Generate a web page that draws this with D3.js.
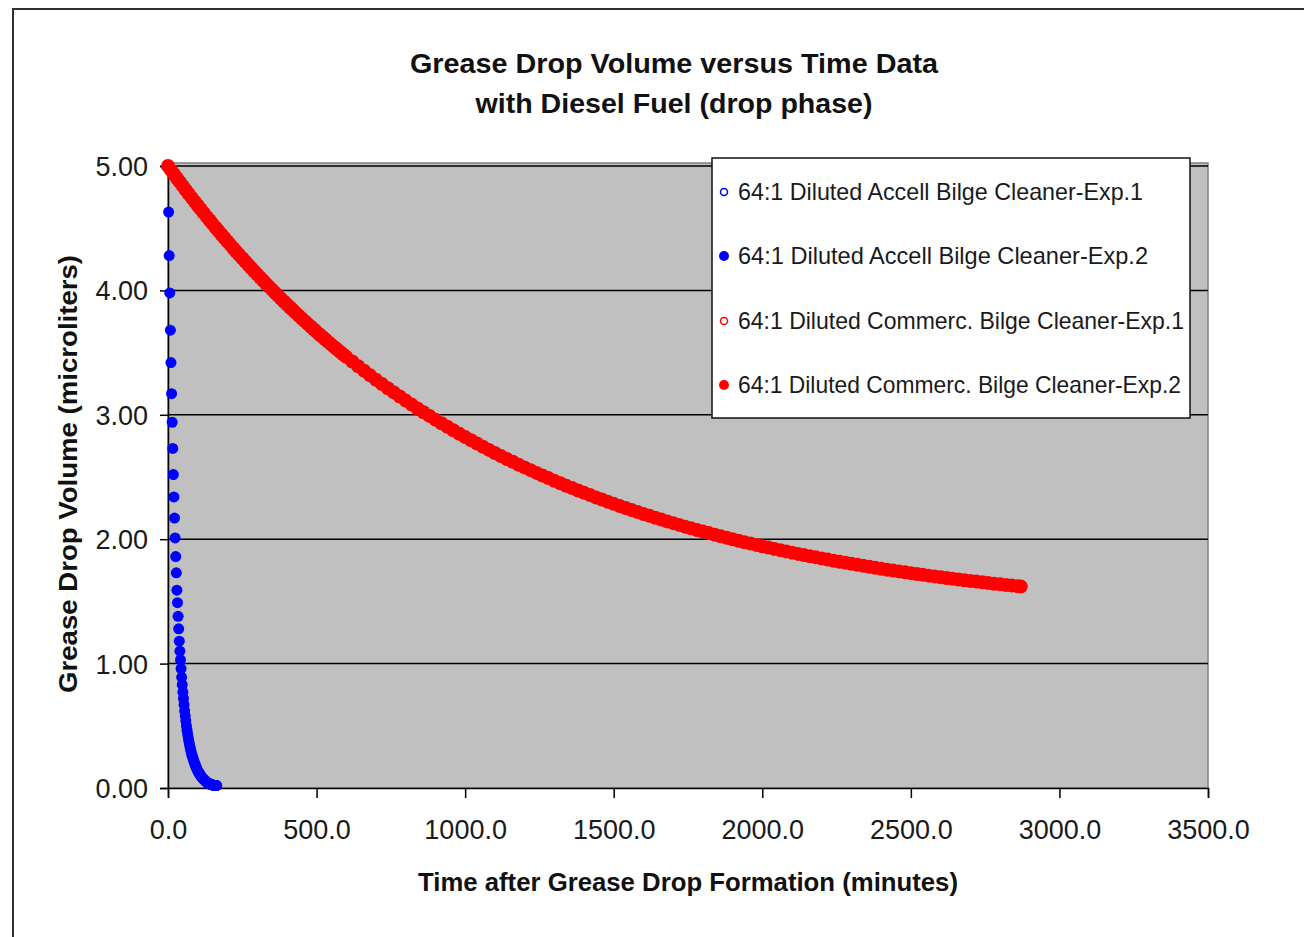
<!DOCTYPE html>
<html><head><meta charset="utf-8">
<script src="https://cdn.jsdelivr.net/npm/d3@7"></script>
<style>body{margin:0;background:#fff;} svg{display:block;}</style>
</head><body>
<svg id="chart" width="1304" height="937"></svg>
<script>
// ---------- DATA ----------
const titleLines = ["Grease Drop Volume versus Time Data", "with Diesel Fuel (drop phase)"];
const xAxisTitle = "Time after Grease Drop Formation (minutes)";
const yAxisTitle = "Grease Drop Volume (microliters)";
const xTicks = [0, 500, 1000, 1500, 2000, 2500, 3000, 3500];
const yTicks = [0, 1, 2, 3, 4, 5];
const seriesNames = [
  "64:1 Diluted Accell Bilge Cleaner-Exp.1",
  "64:1 Diluted Accell Bilge Cleaner-Exp.2",
  "64:1 Diluted Commerc. Bilge Cleaner-Exp.1",
  "64:1 Diluted Commerc. Bilge Cleaner-Exp.2"
];

// Accell Exp.1 (hollow blue) - not distinguishable in the picture
const accellExp1Time = [];
const accellExp1Volume = [];

// Accell Exp.2 (filled blue)
const accellExp2Time = [0,2,4,6,8,10,12,14,16,18,20,22,24,26,28,30,32,34,36,38,40,
  42,44,46,48,50,52,54,56,58,60,62,64,66,68,70,72,74,76,78,80,82,84,86,88,90,92,94,96,98,100,
  102,104,106,108,110,112,114,116,118,120,122,124,126,128,130,132,134,136,138,140,142,144,146,148,150,
  152,154,156,158,160,162,164];
const accellExp2Volume = [5.00,4.63,4.28,3.98,3.68,3.42,3.17,2.94,2.73,2.52,2.34,2.17,2.01,1.86,1.73,1.59,1.49,1.38,1.28,1.18,1.10,
  1.03,0.96,0.89,0.83,0.77,0.72,0.67,0.62,0.58,0.54,0.50,0.465,0.435,0.405,0.38,0.355,0.33,0.31,0.29,0.27,0.255,0.24,0.225,0.21,0.195,0.185,0.17,0.16,0.15,0.14,
  0.13,0.12,0.115,0.105,0.10,0.09,0.085,0.08,0.075,0.07,0.065,0.06,0.055,0.05,0.05,0.045,0.04,0.04,0.035,0.035,0.03,0.03,0.03,0.025,0.025,
  0.025,0.02,0.02,0.02,0.02,0.02,0.02];

// Commerc. Exp.1 (hollow red) - not distinguishable in the picture
const commercExp1Time = [];
const commercExp1Volume = [];

// Commerc. Exp.2 (filled red)
const commercExp2Time = [0,10,20,30,40,50,60,70,80,90,100,110,120,130,140,150,160,170,180,190,200,
  210,220,230,240,250,260,270,280,290,300,310,320,330,340,350,360,370,380,390,400,
  410,420,430,440,450,460,470,480,490,500,510,520,530,540,550,560,570,580,590,600,
  620,640,660,680,700,720,740,760,780,800,820,840,860,880,900,920,940,960,980,1000,
  1020,1040,1060,1080,1100,1120,1140,1160,1180,1200,1220,1240,1260,1280,1300,1320,1340,1360,1380,1400,
  1420,1440,1460,1480,1500,1520,1540,1560,1580,1600,1620,1640,1660,1680,1700,1720,1740,1760,1780,1800,
  1820,1840,1860,1880,1900,1920,1940,1960,1980,2000,2020,2040,2060,2080,2100,2120,2140,2160,2180,2200,
  2220,2240,2260,2280,2300,2320,2340,2360,2380,2400,2420,2440,2460,2480,2500,2520,2540,2560,2580,2600,
  2620,2640,2660,2680,2700,2720,2740,2760,2780,2800,2820,2840,2860,2870];
const commercExp2Volume = [5.000,4.967,4.934,4.902,4.870,4.838,4.806,4.775,4.744,4.713,4.683,4.653,4.623,4.593,4.564,4.535,4.506,4.477,4.449,4.421,4.393,
  4.366,4.339,4.311,4.285,4.258,4.232,4.206,4.180,4.154,4.129,4.104,4.079,4.054,4.030,4.006,3.981,3.958,3.934,3.911,3.888,
  3.865,3.842,3.819,3.797,3.775,3.753,3.731,3.710,3.688,3.667,3.646,3.625,3.605,3.584,3.564,3.544,3.524,3.505,3.485,3.466,
  3.428,3.390,3.354,3.317,3.282,3.247,3.213,3.180,3.147,3.114,3.082,3.051,3.021,2.991,2.961,2.932,2.904,2.876,2.848,2.821,
  2.795,2.769,2.743,2.718,2.693,2.669,2.645,2.622,2.599,2.577,2.555,2.533,2.512,2.491,2.470,2.450,2.430,2.411,2.392,2.373,
  2.355,2.336,2.319,2.301,2.284,2.267,2.251,2.235,2.219,2.203,2.188,2.173,2.158,2.143,2.129,2.115,2.101,2.088,2.074,2.061,
  2.049,2.036,2.024,2.012,2.000,1.988,1.976,1.965,1.954,1.943,1.933,1.922,1.912,1.902,1.892,1.882,1.872,1.863,1.854,1.845,
  1.836,1.827,1.819,1.810,1.802,1.794,1.786,1.778,1.770,1.763,1.755,1.748,1.741,1.734,1.727,1.720,1.714,1.707,1.701,1.694,
  1.688,1.682,1.676,1.670,1.664,1.659,1.653,1.648,1.642,1.637,1.632,1.627,1.622,1.620];

// ---------- CHART ----------
const FONT = "'Liberation Sans', Arial, Helvetica, sans-serif";
const svg = d3.select("#chart");
const W = 1304, H = 937;
const plot = {left: 168, right: 1208, top: 166, bottom: 788};

const x = d3.scaleLinear().domain([0, 3500]).range([plot.left, plot.right]);
const y = d3.scaleLinear().domain([0, 5]).range([plot.bottom, plot.top]);

svg.append("rect").attr("width", W).attr("height", H).attr("fill", "#fff");
// outer frame
svg.append("rect").attr("x", 13).attr("y", 9).attr("width", W + 20).attr("height", H + 20)
  .attr("fill", "none").attr("stroke", "#303030").attr("stroke-width", 2);

// plot background
svg.append("rect").attr("x", plot.left).attr("y", plot.top - 3)
  .attr("width", plot.right - plot.left).attr("height", plot.bottom - plot.top + 3)
  .attr("fill", "#c0c0c0").attr("stroke", "#808080").attr("stroke-width", 1.5);

// gridlines
svg.append("g").selectAll("line").data(yTicks.filter(d => d > 0)).join("line")
  .attr("x1", plot.left).attr("x2", plot.right)
  .attr("y1", d => y(d)).attr("y2", d => y(d))
  .attr("stroke", "#000").attr("stroke-width", 1.5);

// axes
const yAxis = svg.append("g").attr("transform", `translate(${plot.left},0)`)
  .call(d3.axisLeft(y).tickValues(yTicks).tickSize(8).tickPadding(12).tickFormat(d => d.toFixed(2)));
const xAxis = svg.append("g").attr("transform", `translate(0,${plot.bottom})`)
  .call(d3.axisBottom(x).tickValues(xTicks).tickSize(10).tickPadding(22).tickFormat(d => d.toFixed(1)));
[yAxis, xAxis].forEach(g => {
  g.select(".domain").attr("stroke", "#000").attr("stroke-width", 1.5);
  g.selectAll(".tick line").attr("stroke", "#000").attr("stroke-width", 1.5);
  g.selectAll(".tick text").attr("font-family", FONT).attr("font-size", 27).attr("fill", "#1a1a1a");
});
yAxis.selectAll(".tick text").attr("dy", "0.35em");

// series
function drawSeries(times, vols, color, r, filled) {
  const pts = times.map((t, i) => [t, vols[i]]);
  svg.append("g").selectAll("circle").data(pts).join("circle")
    .attr("cx", d => x(d[0])).attr("cy", d => y(d[1])).attr("r", r)
    .attr("fill", filled ? color : "none")
    .attr("stroke", color).attr("stroke-width", filled ? 0 : 1.5);
}
drawSeries(accellExp1Time, accellExp1Volume, "#0000ff", 3.5, false);
drawSeries(accellExp2Time, accellExp2Volume, "#0000ff", 5.5, true);
drawSeries(commercExp1Time, commercExp1Volume, "#ff0000", 3.5, false);
drawSeries(commercExp2Time, commercExp2Volume, "#ff0000", 7, true);

// titles
const titleW = [528, 397];
titleLines.forEach((t, i) => {
  svg.append("text").attr("x", 674).attr("y", 73 + i * 40)
    .attr("text-anchor", "middle").attr("font-family", FONT).attr("font-weight", "bold")
    .attr("font-size", 28).attr("fill", "#111")
    .attr("textLength", titleW[i]).attr("lengthAdjust", "spacingAndGlyphs").text(t);
});
svg.append("text").attr("x", 688).attr("y", 891)
  .attr("text-anchor", "middle").attr("font-family", FONT).attr("font-weight", "bold")
  .attr("font-size", 26).attr("fill", "#111")
  .attr("textLength", 540).attr("lengthAdjust", "spacingAndGlyphs").text(xAxisTitle);
svg.append("text").attr("transform", "translate(68,474) rotate(-90)").attr("dy", "0.35em")
  .attr("text-anchor", "middle").attr("font-family", FONT).attr("font-weight", "bold")
  .attr("font-size", 26).attr("fill", "#111")
  .attr("textLength", 438).attr("lengthAdjust", "spacingAndGlyphs").text(yAxisTitle);

// legend
const legend = svg.append("g");
legend.append("rect").attr("x", 712).attr("y", 158).attr("width", 478).attr("height", 260)
  .attr("fill", "#fff").attr("stroke", "#111").attr("stroke-width", 1.5);
const legendRows = [192, 256, 321, 385];
const legendW = [405, 410, 446, 443];
const legendColor = ["#0000ff", "#0000ff", "#ff0000", "#ff0000"];
const legendFilled = [false, true, false, true];
seriesNames.forEach((name, i) => {
  legend.append("circle").attr("cx", 724).attr("cy", legendRows[i])
    .attr("r", legendFilled[i] ? 5 : 3.5)
    .attr("fill", legendFilled[i] ? legendColor[i] : "none")
    .attr("stroke", legendColor[i]).attr("stroke-width", legendFilled[i] ? 0 : 1.5);
  legend.append("text").attr("x", 738).attr("y", legendRows[i]).attr("dy", "0.35em")
    .attr("font-family", FONT).attr("font-size", 24).attr("fill", "#1a1a1a")
    .attr("textLength", legendW[i]).attr("lengthAdjust", "spacingAndGlyphs").text(name);
});
</script>
</body></html>
